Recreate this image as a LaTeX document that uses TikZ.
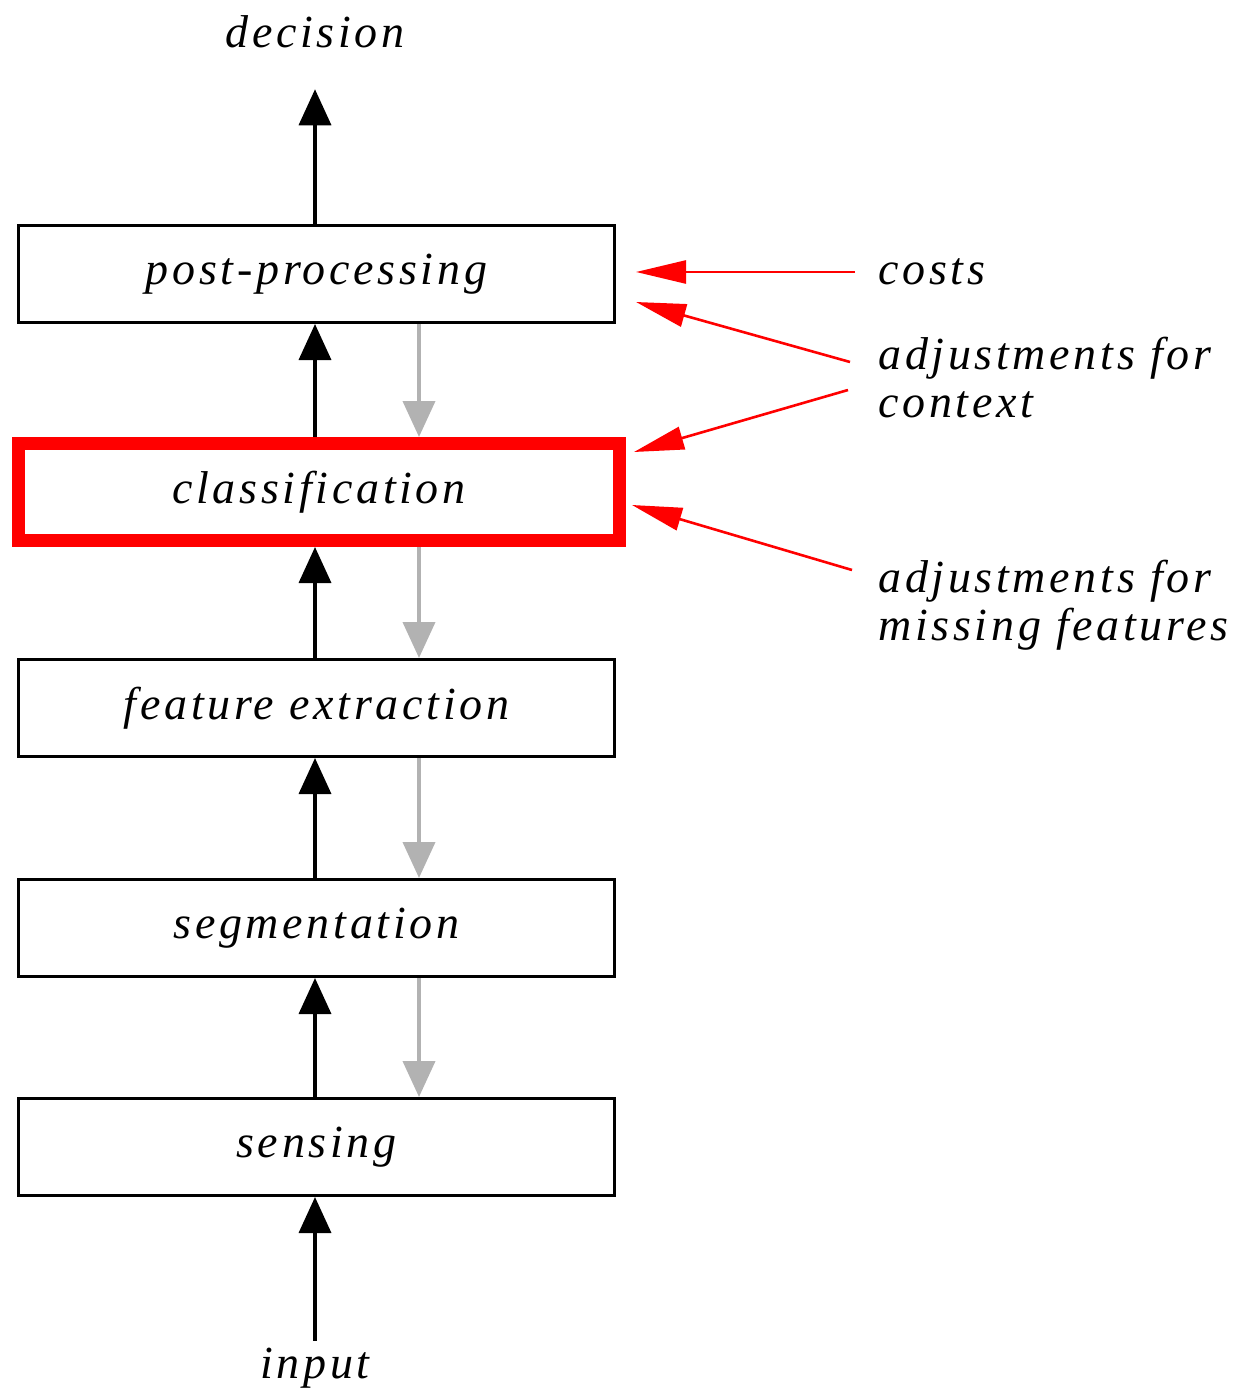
\documentclass[tikz,border=0pt]{standalone}
\usepackage{fontspec}
\newfontfamily\stagefont{Liberation Serif}[LetterSpace=8]
\usetikzlibrary{arrows.meta}

\begin{document}
\begin{tikzpicture}[x=0.5pt,y=-0.5pt,
  every node/.style={font=\stagefont\itshape\fontsize{23}{24}\selectfont},
  stage/.style={draw, line width=1.6pt, inner sep=0pt, minimum width=298pt, minimum height=48.4pt},
  up/.style={line width=1.8pt, -{Triangle[length=18pt,width=16pt]}},
  down/.style={black!30, line width=2pt, -{Triangle[length=18pt,width=16pt]}},
  adjust/.style={red, line width=1.3pt, -{Triangle[length=25pt,width=11.5pt]}}]
\useasboundingbox (0,0) rectangle (1238,1390);

\node[stage] (post) at (316.5,274) {post-processing};
\node[stage, draw=red, line width=6.5pt, minimum width=300.5pt, minimum height=48.5pt] (classif) at (319,492) {classification};
\node[stage] (feat) at (316.5,708) {feature extraction};
\node[stage] (seg) at (316.5,928) {segmentation};
\node[stage] (sens) at (316.5,1147) {sensing};

\node (decision) at (315,32) {decision};
\node (input) at (315,1368) {input};

\node[anchor=west, inner sep=0pt] (costs) at (878,272) {costs};
\node[anchor=north west, align=left, inner sep=0pt] (ctx) at (878,337) {adjustments for\\context};
\node[anchor=north west, align=left, inner sep=0pt] (miss) at (878,560) {adjustments for\\missing features};

\coordinate (b) at (315,0);
\coordinate (g) at (419,0);

% upward flow
\draw[up] (input.north -| b) -- (sens.south -| b);
\draw[up] (sens.north -| b) -- (seg.south -| b);
\draw[up] (seg.north -| b) -- (feat.south -| b);
\draw[up] (feat.north -| b) -- (classif.south -| b);
\draw[up] (classif.north -| b) -- (post.south -| b);
\draw[up, shorten >=17pt] (post.north -| b) -- (decision.south -| b);

% feedback
\draw[down] (post.south -| g) -- (classif.north -| g);
\draw[down] (classif.south -| g) -- (feat.north -| g);
\draw[down] (feat.south -| g) -- (seg.north -| g);
\draw[down] (seg.south -| g) -- (sens.north -| g);

% adjustments
\coordinate (costin) at (636,272);
\coordinate (ctxpost) at (636,302);
\coordinate (ctxcls) at (634,452);
\coordinate (misscls) at (632,505);
\draw[adjust] ([xshift=-11.5pt]costs.west) -- (costin);
\draw[adjust] (850,362) -- (ctxpost);
\draw[adjust] (848,390) -- (ctxcls);
\draw[adjust] (852,570) -- (misscls);
\end{tikzpicture}
\end{document}
